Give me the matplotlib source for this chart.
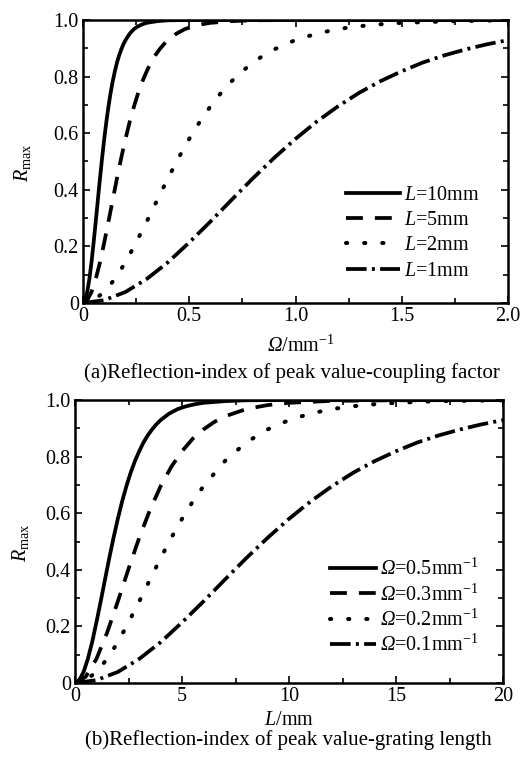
import matplotlib
matplotlib.use("Agg")
import matplotlib.pyplot as plt
from matplotlib.ticker import MultipleLocator

plt.rcParams['font.family'] = ['Liberation Serif', 'DejaVu Serif']
plt.rcParams['mathtext.fontset'] = 'custom'
plt.rcParams['mathtext.rm'] = 'Liberation Serif'
plt.rcParams['mathtext.it'] = 'Liberation Serif:italic'
plt.rcParams['mathtext.sf'] = 'Liberation Serif:italic'

# ---- Panel (a): R_max vs coupling factor Omega (mm^-1) ----
om_L10 = [0, 0.01, 0.02, 0.03, 0.04, 0.05, 0.06, 0.07, 0.08, 0.09, 0.10, 0.11, 0.12, 0.13, 0.14, 0.15,
          0.16, 0.17, 0.18, 0.19, 0.20, 0.22, 0.24, 0.26, 0.28, 0.30, 0.35, 0.40, 0.50, 2.0]
R_L10 = [0, 0.010, 0.039, 0.085, 0.144, 0.214, 0.288, 0.365, 0.441, 0.513, 0.580, 0.641, 0.695, 0.743,
         0.784, 0.819, 0.850, 0.875, 0.896, 0.914, 0.929, 0.952, 0.968, 0.978, 0.985, 0.990, 0.996, 0.999, 1.0, 1.0]
om_L5 = [0, 0.02, 0.04, 0.06, 0.08, 0.10, 0.12, 0.14, 0.16, 0.18, 0.20, 0.22, 0.24, 0.26, 0.28, 0.30,
         0.32, 0.34, 0.36, 0.38, 0.40, 0.44, 0.48, 0.52, 0.56, 0.60, 0.70, 0.80, 1.0, 2.0]
R_L5 = [0, 0.010, 0.039, 0.085, 0.144, 0.214, 0.288, 0.365, 0.441, 0.513, 0.580, 0.641, 0.695, 0.743,
        0.784, 0.819, 0.850, 0.875, 0.896, 0.914, 0.929, 0.952, 0.968, 0.978, 0.985, 0.990, 0.996, 0.999, 1.0, 1.0]
om_L2 = [0, 0.05, 0.10, 0.15, 0.20, 0.25, 0.30, 0.35, 0.40, 0.45, 0.50, 0.55, 0.60, 0.65, 0.70, 0.75,
         0.80, 0.85, 0.90, 0.95, 1.0, 1.1, 1.2, 1.3, 1.4, 1.5, 1.75, 2.0]
R_L2 = [0, 0.010, 0.039, 0.085, 0.144, 0.214, 0.288, 0.365, 0.441, 0.513, 0.580, 0.641, 0.695, 0.743,
        0.784, 0.819, 0.850, 0.875, 0.896, 0.914, 0.929, 0.952, 0.968, 0.978, 0.985, 0.990, 0.996, 0.999]
om_L1 = [0, 0.1, 0.2, 0.3, 0.4, 0.5, 0.6, 0.7, 0.8, 0.9, 1.0, 1.1, 1.2, 1.3, 1.4, 1.5, 1.6, 1.7, 1.8, 1.9, 2.0]
R_L1 = [0, 0.010, 0.039, 0.085, 0.144, 0.214, 0.288, 0.365, 0.441, 0.513, 0.580, 0.641, 0.695, 0.743,
        0.784, 0.819, 0.850, 0.875, 0.896, 0.914, 0.929]

# ---- Panel (b): R_max vs grating length L (mm) ----
L_o5 = [0, 0.2, 0.4, 0.6, 0.8, 1.0, 1.2, 1.4, 1.6, 1.8, 2.0, 2.2, 2.4, 2.6, 2.8, 3.0, 3.2, 3.4, 3.6, 3.8,
        4.0, 4.4, 4.8, 5.2, 5.6, 6.0, 7.0, 8.0, 10.0, 20.0]
R_o5 = [0, 0.010, 0.039, 0.085, 0.144, 0.214, 0.288, 0.365, 0.441, 0.513, 0.580, 0.641, 0.695, 0.743,
        0.784, 0.819, 0.850, 0.875, 0.896, 0.914, 0.929, 0.952, 0.968, 0.978, 0.985, 0.990, 0.996, 0.999, 1.0, 1.0]
L_o3 = [0, 0.5, 1.0, 1.5, 2.0, 2.5, 3.0, 3.5, 4.0, 4.5, 5.0, 5.5, 6.0, 6.5, 7.0, 8.0, 9.0, 10.0, 12.0, 15.0, 20.0]
R_o3 = [0, 0.022, 0.085, 0.178, 0.288, 0.403, 0.513, 0.611, 0.695, 0.764, 0.819, 0.863, 0.896, 0.922,
        0.942, 0.968, 0.982, 0.990, 0.997, 0.999, 1.0]
L_o2 = [0, 0.5, 1, 1.5, 2, 2.5, 3, 3.5, 4, 4.5, 5, 5.5, 6, 7, 8, 9, 10, 11, 12, 13, 14, 15, 16, 17, 18, 19, 20]
R_o2 = [0, 0.010, 0.039, 0.085, 0.144, 0.214, 0.288, 0.365, 0.441, 0.513, 0.580, 0.641, 0.695, 0.784,
        0.850, 0.896, 0.929, 0.952, 0.968, 0.978, 0.985, 0.990, 0.993, 0.996, 0.997, 0.998, 0.999]
L_o1 = [0, 1, 2, 3, 4, 5, 6, 7, 8, 9, 10, 11, 12, 13, 14, 15, 16, 17, 18, 19, 20]
R_o1 = [0, 0.010, 0.039, 0.085, 0.144, 0.214, 0.288, 0.365, 0.441, 0.513, 0.580, 0.641, 0.695, 0.743,
        0.784, 0.819, 0.850, 0.875, 0.896, 0.914, 0.929]

labels_a = [r'$\mathit{L}$=10mm', r'$\mathit{L}$=5mm', r'$\mathit{L}$=2mm', r'$\mathit{L}$=1mm']
labels_b = [r'$\mathsf{Ω}$=0.5mm$^{-1}$', r'$\mathsf{Ω}$=0.3mm$^{-1}$',
            r'$\mathsf{Ω}$=0.2mm$^{-1}$', r'$\mathsf{Ω}$=0.1mm$^{-1}$']

LW = 2.7
styles = [
    dict(linestyle='-', lw=LW),
    dict(linestyle=(0, (4.5, 3.2)), lw=LW),
    dict(linestyle=(0, (0.3, 4.2)), lw=2.9, dash_capstyle='round'),
    dict(linestyle=(0, (5.5, 1.4, 0.8, 1.4)), lw=LW),
]

fig = plt.figure(figsize=(5.23, 7.65), dpi=100)
W, H = 523.0, 765.0
ax1 = fig.add_axes([83 / W, 1 - 303 / H, (508 - 83) / W, (303 - 20) / H])
ax2 = fig.add_axes([75 / W, 1 - 683 / H, (503 - 75) / W, (683 - 400) / H])

for x, y, lab, st in zip([om_L10, om_L5, om_L2, om_L1], [R_L10, R_L5, R_L2, R_L1], labels_a, styles):
    ax1.plot(x, y, color='black', label=lab, **st)
for x, y, lab, st in zip([L_o5, L_o3, L_o2, L_o1], [R_o5, R_o3, R_o2, R_o1], labels_b, styles):
    ax2.plot(x, y, color='black', label=lab, **st)

FS = 14.5
ytick_vals = [0, 0.2, 0.4, 0.6, 0.8, 1.0]
ytick_labels = ['0', '0.2', '0.4', '0.6', '0.8', '1.0']
xa_vals = [0, 0.5, 1.0, 1.5, 2.0]
xa_labels = ['0', '0.5', '1.0', '1.5', '2.0']
xb_vals = [0, 5, 10, 15, 20]
xb_labels = ['0', '5', '10', '15', '20']

for ax, xmax, xv, xl, xmin in [(ax1, 2.0, xa_vals, xa_labels, 0.25), (ax2, 20, xb_vals, xb_labels, 2.5)]:
    ax.set_xlim(0, xmax)
    ax.set_ylim(0, 1.0)
    ax.set_xticks(xv)
    ax.set_xticklabels(xl)
    ax.set_yticks(ytick_vals)
    ax.set_yticklabels(ytick_labels)
    ax.xaxis.set_minor_locator(MultipleLocator(xmin))
    ax.yaxis.set_minor_locator(MultipleLocator(0.1))
    ax.tick_params(which='both', direction='in', top=True, right=True, labelsize=FS)
    ax.tick_params(which='major', length=5, width=1.2, pad=3)
    ax.tick_params(which='minor', length=3.5, width=1.2)
    for sp in ax.spines.values():
        sp.set_linewidth(1.8)
    ax.set_ylabel(r'$\mathit{R}_{\mathrm{max}}$', fontsize=FS)

ax1.yaxis.set_label_coords(-0.118, 0.495)
ax2.yaxis.set_label_coords(-0.103, 0.495)

ax1.set_xlabel(r'$\mathsf{Ω}$/mm$^{-1}$', fontsize=FS)
ax2.set_xlabel(r'$\mathit{L}$/mm', fontsize=FS)
ax1.xaxis.set_label_coords(0.513, -0.115)
ax2.xaxis.set_label_coords(0.50, -0.100)

ax1.legend(loc='upper right', bbox_to_anchor=(0.934, 0.413), frameon=False, fontsize=FS,
           handlelength=2.7, labelspacing=0.3, handletextpad=0.2, borderpad=0, borderaxespad=0)
ax2.legend(loc='upper right', bbox_to_anchor=(0.944, 0.438), frameon=False, fontsize=FS,
           handlelength=2.3, labelspacing=0.2, handletextpad=0.2, borderpad=0, borderaxespad=0)

fig.text(292 / W, 1 - 373 / H, '(a)Reflection-index of peak value-coupling factor',
         ha='center', va='center', fontsize=15)
fig.text(288 / W, 1 - 740 / H, '(b)Reflection-index of peak value-grating length',
         ha='center', va='center', fontsize=15)

fig.savefig('out.png', dpi=100)
